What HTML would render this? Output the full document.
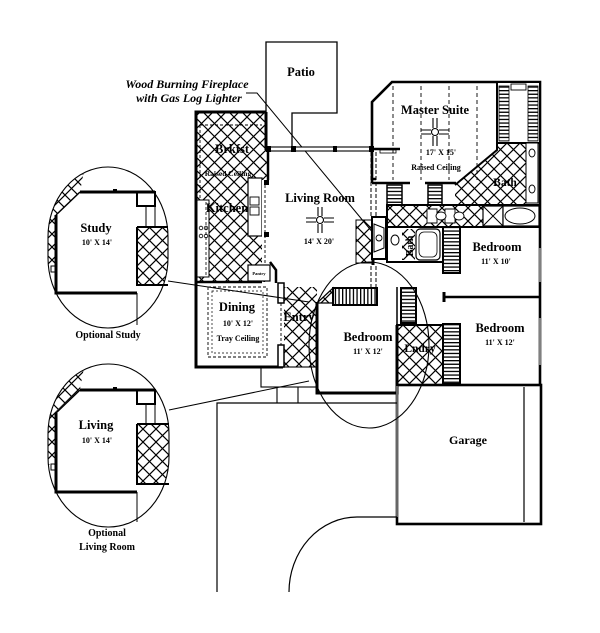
<!DOCTYPE html>
<html><head><meta charset="utf-8"><style>
html,body{margin:0;padding:0;background:#fff;}
svg{display:block;}
text{font-family:"Liberation Serif",serif;fill:#000;}
.r{font-size:12.5px;font-weight:bold;text-anchor:middle;}
.d{font-size:8px;font-weight:bold;text-anchor:middle;}
.s{font-size:7.5px;font-weight:bold;text-anchor:middle;}
</style></head><body>
<svg width="600" height="633" viewBox="0 0 600 633" xmlns="http://www.w3.org/2000/svg">
<defs>
<pattern id="cx" width="13" height="13" patternUnits="userSpaceOnUse">
<path d="M0 0L13 13M13 0L0 13" stroke="#000" stroke-width="1.2" fill="none"/>
</pattern>
<pattern id="hh" width="10" height="3.6" patternUnits="userSpaceOnUse">
<rect x="0" y="0" width="10" height="1.3" fill="#000"/>
</pattern>
<pattern id="vh" width="3.6" height="10" patternUnits="userSpaceOnUse">
<rect x="0" y="0" width="1.3" height="10" fill="#000"/>
</pattern>
<clipPath id="ov1"><rect x="48" y="167" width="120" height="161" rx="60" ry="70"/></clipPath>
<clipPath id="ov2"><rect x="48" y="364" width="121" height="163" rx="60" ry="70"/></clipPath>
</defs>
<rect width="600" height="633" fill="#fff"/>

<!-- Patio -->
<path d="M266 149V42H337V113H292V149" fill="none" stroke="#000" stroke-width="1.3"/>
<text class="r" x="301" y="76">Patio</text>

<!-- Fireplace callout -->
<text x="187" y="88" style="font-size:12px;font-weight:bold;font-style:italic;text-anchor:middle">Wood Burning Fireplace</text>
<text x="189" y="102" style="font-size:12px;font-weight:bold;font-style:italic;text-anchor:middle">with Gas Log Lighter</text>
<path d="M246 93H257L374 234" fill="none" stroke="#000" stroke-width="1"/>

<!-- Kitchen / Brkfst -->
<rect x="196" y="112" width="71" height="170" fill="url(#cx)"/>
<path d="M200 125H262M200 125V200" fill="none" stroke="#000" stroke-width="0.9" stroke-dasharray="3 2"/>
<rect x="197" y="200" width="12" height="77" fill="#fff" stroke="#000" stroke-width="1"/>
<path d="M206 202V275" stroke="#000" stroke-width="0.8" stroke-dasharray="3 2"/>
<circle cx="201" cy="228" r="1.8" fill="none" stroke="#000" stroke-width="0.8"/>
<circle cx="206" cy="228" r="1.8" fill="none" stroke="#000" stroke-width="0.8"/>
<circle cx="201" cy="236" r="1.8" fill="none" stroke="#000" stroke-width="0.8"/>
<circle cx="206" cy="236" r="1.8" fill="none" stroke="#000" stroke-width="0.8"/>
<rect x="248" y="178" width="14" height="58" fill="#fff" stroke="#000" stroke-width="1.2"/>
<rect x="250" y="197" width="9" height="8" fill="#fff" stroke="#000" stroke-width="0.9"/>
<rect x="250" y="207" width="9" height="8" fill="#fff" stroke="#000" stroke-width="0.9"/>
<rect x="262" y="180" width="6" height="100" fill="#fff"/>
<path d="M265 180V280" stroke="#000" stroke-width="0.9" stroke-dasharray="3 2"/>
<rect x="264" y="180" width="5" height="5" fill="#000"/>
<rect x="264" y="232" width="5" height="5" fill="#000"/>
<rect x="248" y="265" width="22" height="16" fill="#fff" stroke="#000" stroke-width="1.2"/>
<text x="259" y="275" style="font-size:4.5px;font-weight:bold;text-anchor:middle">Pantry</text>
<path d="M266 112V150" stroke="#000" stroke-width="3"/>
<path d="M268 150V180" stroke="#000" stroke-width="2.5"/>
<path d="M270 262L276 270V283" fill="none" stroke="#000" stroke-width="2.5"/>
<text class="r" x="232" y="153">Brkfst</text>
<text class="s" x="228" y="176">Raised Ceiling</text>
<text class="r" x="227" y="212">Kitchen</text>

<!-- Outer left wall -->
<path d="M266 112H196V367H283" fill="none" stroke="#000" stroke-width="3"/>
<path d="M196 282H262" stroke="#000" stroke-width="2.5"/>

<!-- Dining -->
<rect x="208" y="287" width="59" height="70" fill="none" stroke="#000" stroke-width="0.9" stroke-dasharray="3 2"/>
<rect x="212" y="291" width="51" height="62" fill="none" stroke="#000" stroke-width="0.7" stroke-dasharray="2 2"/>
<rect x="278" y="283" width="6" height="20" fill="#fff" stroke="#000" stroke-width="1.5"/>
<rect x="278" y="345" width="6" height="22" fill="#fff" stroke="#000" stroke-width="1.5"/>
<path d="M281 303V345" stroke="#000" stroke-width="0.9" stroke-dasharray="3 2"/>
<text class="r" x="237" y="311">Dining</text>
<text class="d" x="238" y="326">10' X 12'</text>
<text class="d" x="238" y="341">Tray Ceiling</text>

<!-- Entry -->
<rect x="284" y="287" width="33" height="80" fill="url(#cx)"/>
<text class="r" x="299" y="321">Entry</text>

<!-- Living room -->
<rect x="266" y="147" width="107" height="4" fill="#fff" stroke="#000" stroke-width="1.1"/>
<rect x="266" y="146" width="5" height="6" fill="#000"/>
<rect x="291" y="146" width="5" height="6" fill="#000"/>
<rect x="333" y="146" width="4" height="6" fill="#000"/>
<rect x="369" y="146" width="5" height="6" fill="#000"/>
<path d="M371 152V218M376 152V218" stroke="#000" stroke-width="1" stroke-dasharray="4 2"/>
<rect x="356" y="220" width="16" height="43" fill="url(#cx)" stroke="#000" stroke-width="1"/>
<rect x="372" y="217" width="14" height="42" fill="#fff" stroke="#000" stroke-width="2"/>
<path d="M374 224L384 228V248L374 252Z" fill="none" stroke="#000" stroke-width="1"/>
<circle cx="379" cy="238" r="3" fill="none" stroke="#000" stroke-width="0.9"/>
<path d="M373 259V265" stroke="#000" stroke-width="3"/>
<path d="M371 266V287M376 266V287" stroke="#000" stroke-width="1" stroke-dasharray="4 2"/>
<text class="r" x="320" y="202">Living Room</text>
<g stroke="#000" stroke-width="1.1" fill="none">
<path d="M306 218H316M324 218H334M306 222H316M324 222H334M318 207V216M322 207V216M318 224V233M322 224V233"/>
<circle cx="320" cy="220" r="3.5" fill="#fff"/>
</g>
<text class="d" x="319" y="244">14' X 20'</text>

<!-- Master Suite -->
<path d="M372 183V102L392 82H540V205" fill="none" stroke="#000" stroke-width="2.6"/>
<path d="M372 183H410M425 183H456" stroke="#000" stroke-width="2.6"/>
<path d="M372 149H400M372 179H376" stroke="#000" stroke-width="2.5"/>
<rect x="380" y="150" width="16" height="3" fill="#fff" stroke="#000" stroke-width="0.8"/>
<path d="M393 86V180M421 86V180M449 86V180M477 86V180" stroke="#000" stroke-width="0.9" stroke-dasharray="4 3"/>
<rect x="497" y="82" width="43" height="61" fill="#fff" stroke="#000" stroke-width="2"/>
<rect x="499" y="86" width="10" height="55" fill="url(#hh)" stroke="#000" stroke-width="0.8"/>
<rect x="528" y="86" width="10" height="55" fill="url(#hh)" stroke="#000" stroke-width="0.8"/>
<rect x="511" y="84" width="15" height="6" fill="#fff" stroke="#000" stroke-width="0.9"/>
<path d="M455 185L497 150V143H526V205H455Z" fill="url(#cx)"/>
<path d="M455 185L497 150V143" fill="none" stroke="#000" stroke-width="2"/>
<rect x="526" y="143" width="12" height="60" fill="#fff" stroke="#000" stroke-width="1"/>
<ellipse cx="532" cy="153" rx="3" ry="4" fill="none" stroke="#000" stroke-width="0.9"/>
<ellipse cx="532" cy="189" rx="3" ry="4" fill="none" stroke="#000" stroke-width="0.9"/>
<rect x="387" y="185" width="15" height="20" fill="url(#hh)" stroke="#000" stroke-width="1.5"/>
<rect x="428" y="185" width="14" height="20" fill="url(#hh)" stroke="#000" stroke-width="1.5"/>
<text class="r" x="435" y="114">Master Suite</text>
<g stroke="#000" stroke-width="1.1" fill="none">
<path d="M421 130H431M439 130H449M421 134H431M439 134H449M433 118V128M437 118V128M433 136V146M437 136V146"/>
<circle cx="435" cy="132" r="3.5" fill="#fff"/>
</g>
<text class="d" x="441" y="155">17' X 15'</text>
<text class="d" x="436" y="170">Raised Ceiling</text>
<text x="505" y="186" style="font-size:11.5px;font-weight:bold;text-anchor:middle">Bath</text>

<!-- Master bath row -->
<rect x="387" y="205" width="153" height="22" fill="url(#cx)" stroke="#000" stroke-width="2"/>
<path d="M427 209h10v14h-10z M445 209h10v14h-10z" fill="#fff" stroke="#000" stroke-width="0.9"/>
<ellipse cx="441" cy="216" rx="5" ry="4" fill="#fff" stroke="#000" stroke-width="0.9"/>
<ellipse cx="459" cy="216" rx="5" ry="4" fill="#fff" stroke="#000" stroke-width="0.9"/>
<rect x="483" y="206" width="20" height="20" fill="#fff" stroke="#000" stroke-width="1.2"/>
<path d="M483 206L503 226M503 206L483 226" stroke="#000" stroke-width="1"/>
<rect x="503" y="206" width="36" height="20" fill="#fff" stroke="#000" stroke-width="1.2"/>
<ellipse cx="520" cy="216" rx="15" ry="8" fill="none" stroke="#000" stroke-width="1"/>

<!-- Bath 2 -->
<rect x="387" y="227" width="56" height="35" fill="#fff" stroke="#000" stroke-width="2"/>
<ellipse cx="395" cy="240" rx="4" ry="5" fill="none" stroke="#000" stroke-width="1"/>
<rect x="402" y="229" width="13" height="31" fill="url(#cx)"/>
<text x="0" y="0" transform="translate(413 246) rotate(-90)" style="font-size:10px;font-weight:bold;text-anchor:middle">Bath</text>
<rect x="416" y="229" width="24" height="31" rx="4" fill="#fff" stroke="#000" stroke-width="1.2"/>
<rect x="419" y="232" width="18" height="25" rx="5" fill="none" stroke="#000" stroke-width="0.8"/>

<!-- Bedroom closets -->
<rect x="443" y="227" width="17" height="46" fill="url(#hh)" stroke="#000" stroke-width="2"/>
<rect x="443" y="324" width="17" height="60" fill="url(#hh)" stroke="#000" stroke-width="2"/>
<path d="M443 227H540" stroke="#000" stroke-width="2"/>
<path d="M540 205V386" stroke="#000" stroke-width="2.6"/>
<path d="M540 248V282M540 318V365" stroke="#fff" stroke-width="1"/>
<path d="M444 297H540" stroke="#000" stroke-width="2.5"/>
<path d="M444 292V302" stroke="#000" stroke-width="3"/>
<text class="r" x="497" y="251">Bedroom</text>
<text class="d" x="496" y="264">11' X 10'</text>
<text class="r" x="500" y="332">Bedroom</text>
<text class="d" x="500" y="345">11' X 12'</text>

<!-- Laundry -->
<rect x="397" y="325" width="46" height="60" fill="url(#cx)" stroke="#000" stroke-width="2"/>
<rect x="401" y="288" width="15" height="35" fill="url(#hh)" stroke="#000" stroke-width="2"/>
<text class="r" x="420" y="352" style="font-size:11.5px">Lndry</text>

<!-- Front bedroom -->
<rect x="333" y="288" width="44" height="17" fill="url(#vh)" stroke="#000" stroke-width="2"/>
<path d="M317 303L333 288V303Z" fill="url(#cx)" stroke="#000" stroke-width="1.2"/>
<path d="M317 302V393H397V325" fill="none" stroke="#000" stroke-width="3"/>
<path d="M397 287V325" stroke="#000" stroke-width="1.5"/>
<text class="r" x="368" y="341">Bedroom</text>
<text class="d" x="368" y="354">11' X 12'</text>

<!-- Porch -->
<rect x="261" y="367" width="56" height="20" fill="none" stroke="#000" stroke-width="1.1"/>
<path d="M277 387V403M298 387V403" stroke="#000" stroke-width="1.1"/>

<!-- Garage & driveway -->
<rect x="397" y="385" width="144" height="139" fill="none" stroke="#000" stroke-width="2.6"/>
<path d="M397 386V517" stroke="#fff" stroke-width="2"/>
<path d="M397 386V517" stroke="#000" stroke-width="1.2"/>
<path d="M524 387V522" stroke="#000" stroke-width="1.2"/>
<text x="468" y="444" style="font-size:12px;font-weight:bold;text-anchor:middle">Garage</text>
<path d="M217 592V403H397" fill="none" stroke="#000" stroke-width="1.2"/>
<path d="M397 517H357A68 75 0 0 0 289 592" fill="none" stroke="#000" stroke-width="1.2"/>

<!-- Ellipse highlight -->
<ellipse cx="369" cy="345" rx="60" ry="83" fill="none" stroke="#000" stroke-width="1.1"/>

<!-- Connector lines -->
<path d="M168 281L309 302" stroke="#000" stroke-width="1"/>
<path d="M169 410L309 381" stroke="#000" stroke-width="1"/>

<!-- Optional Study -->
<g clip-path="url(#ov1)">
<path d="M40 160H86L80 192L56 215V268H40Z" fill="url(#cx)"/>
<rect x="137" y="227" width="35" height="58" fill="url(#cx)"/>
</g>
<rect x="48" y="167" width="120" height="161" rx="60" ry="70" fill="none" stroke="#000" stroke-width="1.1"/>
<path d="M80 192H155" stroke="#000" stroke-width="3"/>
<path d="M56 215V293H137" fill="none" stroke="#000" stroke-width="3"/>
<path d="M56 215L80 192" stroke="#000" stroke-width="1.5"/>
<rect x="113" y="189" width="4" height="3" fill="#000"/>
<rect x="137" y="192" width="18" height="14" fill="none" stroke="#000" stroke-width="2"/>
<path d="M146 206V227M155 206V227" stroke="#000" stroke-width="1"/>
<path d="M137 227V285H168M137 227H168" fill="none" stroke="#000" stroke-width="2"/>
<path d="M137 293V325" stroke="#000" stroke-width="1"/>
<rect x="51" y="266" width="5" height="6" fill="none" stroke="#000" stroke-width="1"/>
<text class="r" x="96" y="232">Study</text>
<text class="d" x="97" y="245">10' X 14'</text>
<text x="108" y="338" style="font-size:10px;font-weight:bold;text-anchor:middle">Optional Study</text>

<!-- Optional Living -->
<g clip-path="url(#ov2)">
<path d="M40 357H86L80 389L56 412V465H40Z" fill="url(#cx)"/>
<rect x="137" y="424" width="35" height="59" fill="url(#cx)"/>
</g>
<rect x="48" y="364" width="121" height="163" rx="60" ry="70" fill="none" stroke="#000" stroke-width="1.1"/>
<path d="M80 390H155" stroke="#000" stroke-width="3"/>
<path d="M56 413V492H137" fill="none" stroke="#000" stroke-width="3"/>
<path d="M56 413L80 390" stroke="#000" stroke-width="1.5"/>
<rect x="113" y="387" width="4" height="3" fill="#000"/>
<rect x="137" y="390" width="18" height="14" fill="none" stroke="#000" stroke-width="2"/>
<path d="M146 404V424M155 404V424" stroke="#000" stroke-width="1"/>
<path d="M137 424V484H169M137 424H169" fill="none" stroke="#000" stroke-width="2"/>
<path d="M137 492V522" stroke="#000" stroke-width="1"/>
<rect x="51" y="464" width="5" height="6" fill="none" stroke="#000" stroke-width="1"/>
<text class="r" x="96" y="429">Living</text>
<text class="d" x="97" y="443">10' X 14'</text>
<text x="107" y="536" style="font-size:10px;font-weight:bold;text-anchor:middle">Optional</text>
<text x="107" y="550" style="font-size:10px;font-weight:bold;text-anchor:middle">Living Room</text>
</svg>
</body></html>
